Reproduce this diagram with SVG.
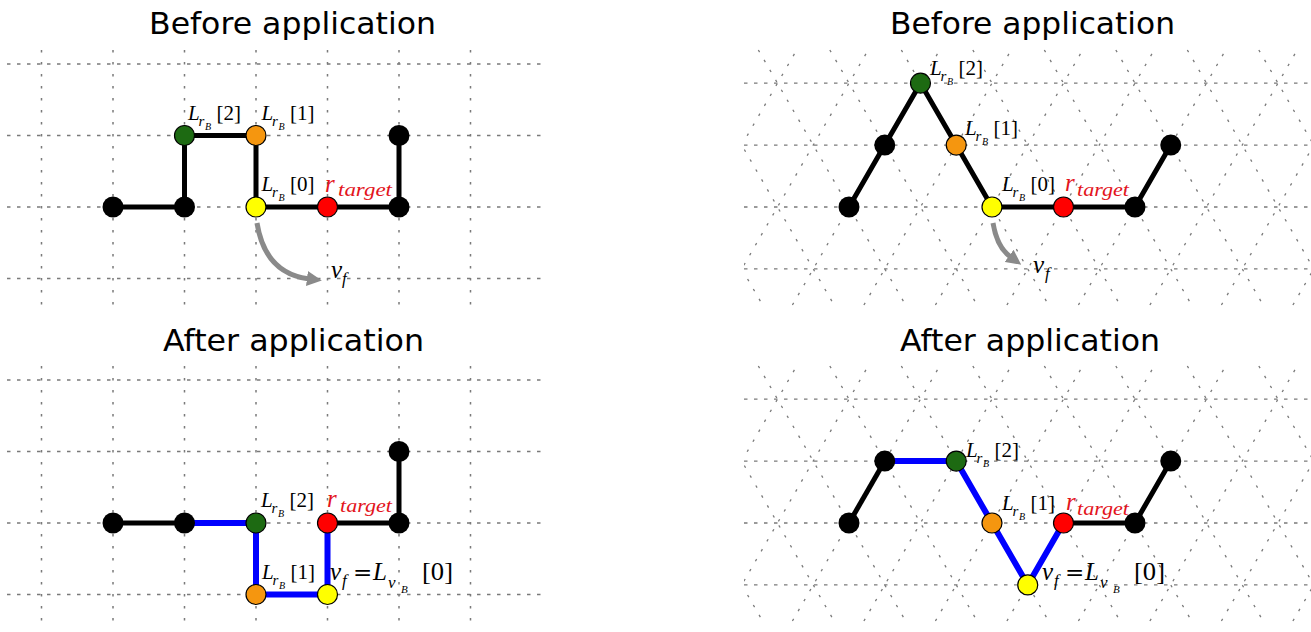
<svg xmlns="http://www.w3.org/2000/svg" xmlns:xlink="http://www.w3.org/1999/xlink" width="1311" height="632" viewBox="0 0 1311 632">
<style>
.title{font-family:"DejaVu Sans",sans-serif;font-size:31px;fill:#000;text-anchor:middle}
.gh{stroke:#7a7a7a;stroke-width:1.4;stroke-dasharray:3.5 6.5;fill:none}
.gv{stroke:#7a7a7a;stroke-width:1.5;stroke-dasharray:2.5 9.5;fill:none}
.gd{stroke:#7a7a7a;stroke-width:1.3;stroke-dasharray:2.5 9;fill:none}
.eb{stroke:#000;stroke-width:5;fill:none;stroke-linejoin:round}
.eu{stroke:#0000ff;stroke-width:6;fill:none;stroke-linejoin:round}
.arr{stroke:#8a8a8a;stroke-width:5;fill:none}
.nb{fill:#000}
.nc{stroke:#000;stroke-width:1.2}
.green{fill:#1d6a12}
.orange{fill:#f5960f}
.yellow{fill:#ffff00}
.red{fill:#ff0000}
.m{font-family:"Liberation Serif",serif;font-style:italic;font-size:21px;fill:#000}
.s{font-family:"Liberation Serif",serif;font-style:italic;font-size:15px;fill:#000}
.ss{font-family:"Liberation Serif",serif;font-style:italic;font-size:10px;fill:#000}
.n{font-family:"Liberation Serif",serif;font-size:21px;fill:#000}
.big{font-family:"Liberation Serif",serif;font-style:italic;font-size:25px}
.bign{font-family:"Liberation Serif",serif;font-size:25px;fill:#000}
.eq{font-family:"DejaVu Serif",serif;font-size:23px;fill:#000}
.sub16{font-family:"Liberation Serif",serif;font-style:italic;font-size:17px}
.tg{font-family:"Liberation Serif",serif;font-style:italic;font-size:19px}
.ss11{font-family:"Liberation Serif",serif;font-style:italic;font-size:11px;fill:#000}
.rt{fill:#e3141c}
</style>
<defs>
<marker id="ah" viewBox="0 0 14 14" refX="1" refY="7" markerWidth="15" markerHeight="15" markerUnits="userSpaceOnUse" orient="auto">
<path d="M0,0 L14,7 L0,14 z" fill="#8a8a8a"/>
</marker>
<clipPath id="triclip" clipPathUnits="userSpaceOnUse"><rect x="744" y="48" width="567" height="259"/></clipPath>
<g id="sqgrid">
<path class="gh" d="M7,64H545M7,135.5H545M7,207H545M7,278.5H545"/>
<path class="gv" d="M41.5,50V307M113,50V307M184.5,50V307M256,50V307M327.5,50V307M399,50V307M470.5,50V307"/>
</g>
<g id="trigrid">
<g clip-path="url(#triclip)">
<path class="gh" d="M744,83.16H1311M744,145.08H1311M744,207H1311M744,268.92H1311"/>
<path class="gd" d="M643.65,315L802.42,40M715.15,315L873.92,40M786.65,315L945.42,40M858.15,315L1016.92,40M929.65,315L1088.42,40M1001.15,315L1159.92,40M1072.65,315L1231.42,40M1144.15,315L1302.92,40M1215.65,315L1374.42,40M1287.15,315L1445.92,40"/>
<path class="gd" d="M609.58,40L768.35,315M681.08,40L839.85,315M752.58,40L911.35,315M824.08,40L982.85,315M895.58,40L1054.35,315M967.08,40L1125.85,315M1038.58,40L1197.35,315M1110.08,40L1268.85,315M1181.58,40L1340.35,315M1253.08,40L1411.85,315"/>
</g>
</g>
</defs>

<g id="titles">
<text class="title" x="292.5" y="34" textLength="287" lengthAdjust="spacingAndGlyphs">Before application</text>
<text class="title" x="1032.5" y="34" textLength="285" lengthAdjust="spacingAndGlyphs">Before application</text>
<text class="title" x="293.5" y="351" textLength="261" lengthAdjust="spacingAndGlyphs">After application</text>
<text class="title" x="1030" y="351" textLength="260" lengthAdjust="spacingAndGlyphs">After application</text>
</g>

<g id="grids">
<use xlink:href="#sqgrid"/>
<use xlink:href="#sqgrid" y="316"/>
<use xlink:href="#trigrid"/>
<use xlink:href="#trigrid" y="316"/>
</g>

<g id="connectors">
<polyline class="eb" points="113,207 184.5,207 184.5,135.5 256,135.5 256,207 327.5,207 399,207 399,135.5"/>
<path class="arr" d="M257,223 Q265,273 308,278.7" marker-end="url(#ah)"/>
<polyline class="eb" points="849,207 884.75,145.08 920.5,83.16 956.25,145.08 992,207 1063.5,207 1135,207 1170.75,145.08"/>
<path class="arr" d="M993,223 Q997,247 1010,256.5" marker-end="url(#ah)"/>
<polyline class="eb" points="113,523 184.5,523"/>
<polyline class="eu" points="184.5,523 256,523 256,594.5 327.5,594.5 327.5,523"/>
<polyline class="eb" points="327.5,523 399,523 399,451.5"/>
<polyline class="eb" points="849,523 884.75,461.08"/>
<polyline class="eu" points="884.75,461.08 956.25,461.08 992,523 1027.75,584.92 1063.5,523"/>
<polyline class="eb" points="1063.5,523 1135,523 1170.75,461.08"/>
</g>

<!-- top-left nodes -->
<g id="tl-n1"><circle class="nb" cx="113" cy="207" r="10.5"/></g>
<g id="tl-n2"><circle class="nb" cx="184.5" cy="207" r="10.5"/></g>
<g id="tl-lrb2"><circle class="nc green" cx="184.5" cy="135.5" r="10"/>
<g transform="translate(188,120)"><text class="m" x="0" y="0">L</text><text class="s" x="10.5" y="6">r</text><text class="ss" x="17" y="9.5">B</text><text class="n" x="28.5" y="0">[2]</text></g></g>
<g id="tl-lrb1"><circle class="nc orange" cx="256" cy="135.5" r="10"/>
<g transform="translate(261.5,120)"><text class="m" x="0" y="0">L</text><text class="s" x="10.5" y="6">r</text><text class="ss" x="17" y="9.5">B</text><text class="n" x="28.5" y="0">[1]</text></g></g>
<g id="tl-lrb0"><circle class="nc yellow" cx="256" cy="207" r="10"/>
<g transform="translate(261.5,191)"><text class="m" x="0" y="0">L</text><text class="s" x="10.5" y="6">r</text><text class="ss" x="17" y="9.5">B</text><text class="n" x="28.5" y="0">[0]</text></g></g>
<g id="tl-target"><circle class="nc red" cx="327.5" cy="207" r="10"/>
<text class="big rt" x="325" y="191.5">r</text><text class="tg rt" x="338" y="196" textLength="54" lengthAdjust="spacingAndGlyphs">target</text></g>
<g id="tl-n6"><circle class="nb" cx="399" cy="207" r="10.5"/></g>
<g id="tl-n7"><circle class="nb" cx="399" cy="135.5" r="10.5"/></g>
<g id="tl-vf"><text class="big" x="331" y="278">v</text><text class="sub16" x="342" y="284">f</text></g>

<!-- top-right nodes -->
<g id="tr-n1"><circle class="nb" cx="849" cy="207" r="10.5"/></g>
<g id="tr-n2"><circle class="nb" cx="884.75" cy="145.08" r="10.5"/></g>
<g id="tr-lrb2"><circle class="nc green" cx="920.5" cy="83.16" r="10"/>
<g transform="translate(930,75)"><text class="m" x="0" y="0">L</text><text class="s" x="10.5" y="6">r</text><text class="ss" x="17" y="9.5">B</text><text class="n" x="28.5" y="0">[2]</text></g></g>
<g id="tr-lrb1"><circle class="nc orange" cx="956.25" cy="145.08" r="10"/>
<g transform="translate(965,135)"><text class="m" x="0" y="0">L</text><text class="s" x="10.5" y="6">r</text><text class="ss" x="17" y="9.5">B</text><text class="n" x="28.5" y="0">[1]</text></g></g>
<g id="tr-lrb0"><circle class="nc yellow" cx="992" cy="207" r="10"/>
<g transform="translate(1002,191)"><text class="m" x="0" y="0">L</text><text class="s" x="10.5" y="6">r</text><text class="ss" x="17" y="9.5">B</text><text class="n" x="28.5" y="0">[0]</text></g></g>
<g id="tr-target"><circle class="nc red" cx="1063.5" cy="207" r="10"/>
<text class="big rt" x="1065" y="191">r</text><text class="tg rt" x="1077" y="196" textLength="52" lengthAdjust="spacingAndGlyphs">target</text></g>
<g id="tr-n6"><circle class="nb" cx="1135" cy="207" r="10.5"/></g>
<g id="tr-n7"><circle class="nb" cx="1170.75" cy="145.08" r="10.5"/></g>
<g id="tr-vf"><text class="big" x="1033" y="273">v</text><text class="sub16" x="1045" y="279">f</text></g>

<!-- bottom-left nodes -->
<g id="bl-n1"><circle class="nb" cx="113" cy="523" r="10.5"/></g>
<g id="bl-n2"><circle class="nb" cx="184.5" cy="523" r="10.5"/></g>
<g id="bl-lrb2"><circle class="nc green" cx="256" cy="523" r="10"/>
<g transform="translate(261,507)"><text class="m" x="0" y="0">L</text><text class="s" x="10.5" y="6">r</text><text class="ss" x="17" y="9.5">B</text><text class="n" x="28.5" y="0">[2]</text></g></g>
<g id="bl-target"><circle class="nc red" cx="327.5" cy="523" r="10"/>
<text class="big rt" x="327" y="507">r</text><text class="tg rt" x="340" y="512" textLength="52" lengthAdjust="spacingAndGlyphs">target</text></g>
<g id="bl-n6"><circle class="nb" cx="399" cy="523" r="10.5"/></g>
<g id="bl-n7"><circle class="nb" cx="399" cy="451.5" r="10.5"/></g>
<g id="bl-lrb1"><circle class="nc orange" cx="256" cy="594.5" r="10"/>
<g transform="translate(262,579)"><text class="m" x="0" y="0">L</text><text class="s" x="10.5" y="6">r</text><text class="ss" x="17" y="9.5">B</text><text class="n" x="28.5" y="0">[1]</text></g></g>
<g id="bl-vf"><circle class="nc yellow" cx="327.5" cy="594.5" r="10"/>
<g transform="translate(330,580)"><text class="big" x="0" y="0">v</text><text class="sub16" x="12" y="6">f</text><text class="eq" x="23" y="0">=</text><text class="big" x="43" y="0">L</text><text class="sub16" x="58" y="8">v</text><text class="ss11" x="71" y="13">B</text><text class="bign" x="92" y="0" textLength="31" lengthAdjust="spacingAndGlyphs">[0]</text></g></g>

<!-- bottom-right nodes -->
<g id="br-n1"><circle class="nb" cx="849" cy="523" r="10.5"/></g>
<g id="br-n2"><circle class="nb" cx="884.75" cy="461.08" r="10.5"/></g>
<g id="br-lrb2"><circle class="nc green" cx="956.25" cy="461.08" r="10"/>
<g transform="translate(966,457)"><text class="m" x="0" y="0">L</text><text class="s" x="10.5" y="6">r</text><text class="ss" x="17" y="9.5">B</text><text class="n" x="28.5" y="0">[2]</text></g></g>
<g id="br-lrb1"><circle class="nc orange" cx="992" cy="523" r="10"/>
<g transform="translate(1002,510)"><text class="m" x="0" y="0">L</text><text class="s" x="10.5" y="6">r</text><text class="ss" x="17" y="9.5">B</text><text class="n" x="28.5" y="0">[1]</text></g></g>
<g id="br-vf"><circle class="nc yellow" cx="1027.75" cy="584.92" r="10"/>
<g transform="translate(1042,580)"><text class="big" x="0" y="0">v</text><text class="sub16" x="12" y="6">f</text><text class="eq" x="23" y="0">=</text><text class="big" x="43" y="0">L</text><text class="sub16" x="58" y="8">v</text><text class="ss11" x="71" y="13">B</text><text class="bign" x="92" y="0" textLength="31" lengthAdjust="spacingAndGlyphs">[0]</text></g></g>
<g id="br-target"><circle class="nc red" cx="1063.5" cy="523" r="10"/>
<text class="big rt" x="1066" y="510">r</text><text class="tg rt" x="1077" y="515" textLength="52" lengthAdjust="spacingAndGlyphs">target</text></g>
<g id="br-n6"><circle class="nb" cx="1135" cy="523" r="10.5"/></g>
<g id="br-n7"><circle class="nb" cx="1170.75" cy="461.08" r="10.5"/></g>
</svg>
